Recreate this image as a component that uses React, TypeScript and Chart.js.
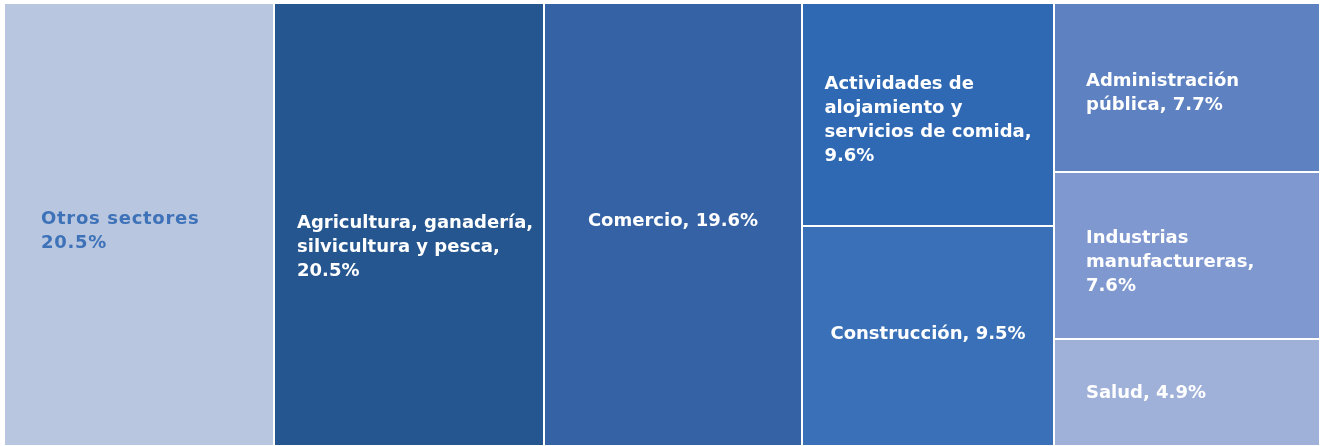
import React, { useEffect, useRef } from "react";
import { Chart, registerables } from "chart.js";

Chart.register(...registerables);

// Treemap data (slice-and-dice: columns, then rows within each column)
const columnGroups: number[] = [0, 1, 2, 3, 3, 4, 4, 4];
const sectorNames: string[] = [
  "Otros sectores",
  "Agricultura, ganadería, silvicultura y pesca",
  "Comercio",
  "Actividades de alojamiento y servicios de comida",
  "Construcción",
  "Administración pública",
  "Industrias manufactureras",
  "Salud",
];
const sectorValues: number[] = [20.5, 20.5, 19.6, 9.6, 9.5, 7.7, 7.6, 4.9];
const labelLines: string[][] = [
  ["Otros sectores", "20.5%"],
  ["Agricultura, ganadería,", "silvicultura y pesca,", "20.5%"],
  ["Comercio, 19.6%"],
  ["Actividades de", "alojamiento y", "servicios de comida,", "9.6%"],
  ["Construcción, 9.5%"],
  ["Administración", "pública, 7.7%"],
  ["Industrias", "manufactureras,", "7.6%"],
  ["Salud, 4.9%"],
];

// Styles
const fillColors: string[] = ["#B9C6DF", "#25568F", "#3462A5", "#2F69B3", "#3A70B7", "#5E81C1", "#8098D0", "#9FB1D8"];
const textColors: string[] = ["#3D72B9", "#FFFFFF", "#FFFFFF", "#FFFFFF", "#FFFFFF", "#FFFFFF", "#FFFFFF", "#FFFFFF"];
const labelHalfWidth: number[] = [98, 112, 0, 0, 0, 101, 101, 101]; // 0 = centre the text block
const labelDy: number[] = [7, 23, -3, 6, -2, 6, 7, 1];
const labelSpacing: string[] = ["0.7px", "0px", "0px", "0px", "0px", "0px", "0px", "0px"];

const FONT = 'bold 18px "DejaVu Sans", sans-serif';
const LINE_H = 24;

const treemapPlugin = {
  id: "treemapRects",
  afterDatasetsDraw(chart: any) {
    const { ctx, scales } = chart;
    const xs = scales.x;
    const ys = scales.y;
    const nCols = Math.max(...columnGroups) + 1;
    const colTotals = new Array(nCols).fill(0);
    sectorValues.forEach((v, i) => (colTotals[columnGroups[i]] += v));
    const colStart: number[] = [];
    let acc = 0;
    for (let c = 0; c < nCols; c++) {
      colStart.push(acc);
      acc += colTotals[c];
    }
    const rowAcc = new Array(nCols).fill(0);
    ctx.save();
    sectorValues.forEach((v, i) => {
      const c = columnGroups[i];
      const x0v = colStart[c];
      const x1v = colStart[c] + colTotals[c];
      const y0v = rowAcc[c] / colTotals[c];
      rowAcc[c] += v;
      const y1v = rowAcc[c] / colTotals[c];
      const px0 = Math.round(xs.getPixelForValue(x0v)) + 1;
      const px1 = Math.round(xs.getPixelForValue(x1v)) - 1;
      const py0 = Math.round(ys.getPixelForValue(y0v)) + 1;
      const py1 = Math.round(ys.getPixelForValue(y1v)) - 1;
      ctx.fillStyle = fillColors[i];
      ctx.fillRect(px0, py0, px1 - px0, py1 - py0);

      // label
      const lines = labelLines[i];
      ctx.font = FONT;
      (ctx as any).letterSpacing = labelSpacing[i];
      ctx.fillStyle = textColors[i];
      ctx.textBaseline = "middle";
      ctx.textAlign = "left";
      const w = Math.max(...lines.map((l) => ctx.measureText(l).width));
      const cx = (px0 + px1) / 2;
      const cy = (py0 + py1) / 2;
      const half = labelHalfWidth[i] > 0 ? labelHalfWidth[i] : w / 2;
      const left = cx - half;
      const top = cy - (lines.length * LINE_H) / 2 + labelDy[i];
      lines.forEach((l, k) => {
        ctx.fillText(l, left, top + LINE_H * k + LINE_H / 2);
      });
    });
    ctx.restore();
  },
};

export default function App() {
  const canvasRef = useRef<HTMLCanvasElement | null>(null);
  useEffect(() => {
    document.body.style.margin = "0";
    const canvas = canvasRef.current!;
    const total = sectorValues.reduce((a, b) => a + b, 0);
    const chart = new Chart(canvas, {
      type: "scatter",
      data: {
        labels: sectorNames,
        datasets: [{ data: [], pointRadius: 0 }],
      },
      options: {
        animation: false,
        responsive: false,
        layout: { padding: { left: 4, top: 3, right: 0, bottom: 0 } },
        plugins: { legend: { display: false }, tooltip: { enabled: false } },
        scales: {
          x: { type: "linear", min: 0, max: total, display: false },
          y: { type: "linear", min: 0, max: 1, reverse: true, display: false },
        },
      },
      plugins: [treemapPlugin],
    });
    return () => chart.destroy();
  }, []);
  return (
    <div style={{ width: 1320, height: 446, background: "#fff" }}>
      <canvas ref={canvasRef} width={1320} height={446} style={{ display: "block" }} />
    </div>
  );
}
